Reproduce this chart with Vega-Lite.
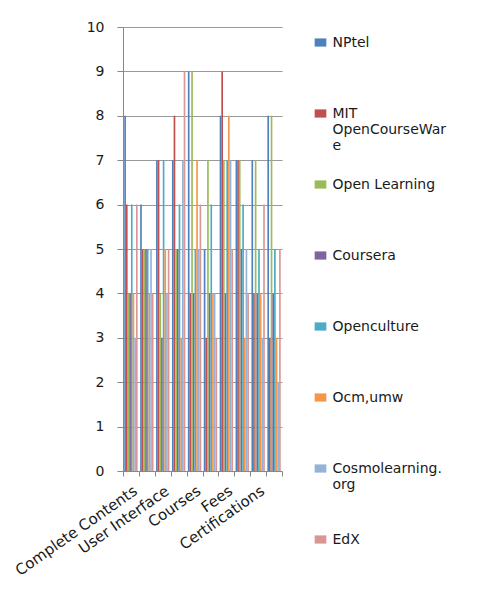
{
  "$schema": "https://vega.github.io/schema/vega-lite/v6.json",
  "autosize": "none",
  "width": 159,
  "height": 444,
  "padding": {"left": 123, "top": 27, "right": 197, "bottom": 136},
  "background": "white",
  "config": {
    "view": {"stroke": null},
    "font": "DejaVu Sans"
  },
  "data": {
    "values": [
      {"category": "Complete Contents", "series": "NPtel", "value": 8},
      {"category": "Complete Contents", "series": "MIT OpenCourseWare", "value": 6},
      {"category": "Complete Contents", "series": "Open Learning", "value": 4},
      {"category": "Complete Contents", "series": "Coursera", "value": 4},
      {"category": "Complete Contents", "series": "Openculture", "value": 6},
      {"category": "Complete Contents", "series": "Ocm,umw", "value": 4},
      {"category": "Complete Contents", "series": "Cosmolearning.org", "value": 3},
      {"category": "Complete Contents", "series": "EdX", "value": 6},
      {"category": " ", "series": "NPtel", "value": 6},
      {"category": " ", "series": "MIT OpenCourseWare", "value": 5},
      {"category": " ", "series": "Open Learning", "value": 5},
      {"category": " ", "series": "Coursera", "value": 5},
      {"category": " ", "series": "Openculture", "value": 5},
      {"category": " ", "series": "Ocm,umw", "value": 4},
      {"category": " ", "series": "Cosmolearning.org", "value": 5},
      {"category": " ", "series": "EdX", "value": 4},
      {"category": "User Interface", "series": "NPtel", "value": 7},
      {"category": "User Interface", "series": "MIT OpenCourseWare", "value": 7},
      {"category": "User Interface", "series": "Open Learning", "value": 4},
      {"category": "User Interface", "series": "Coursera", "value": 3},
      {"category": "User Interface", "series": "Openculture", "value": 7},
      {"category": "User Interface", "series": "Ocm,umw", "value": 5},
      {"category": "User Interface", "series": "Cosmolearning.org", "value": 4},
      {"category": "User Interface", "series": "EdX", "value": 5},
      {"category": "  ", "series": "NPtel", "value": 7},
      {"category": "  ", "series": "MIT OpenCourseWare", "value": 8},
      {"category": "  ", "series": "Open Learning", "value": 5},
      {"category": "  ", "series": "Coursera", "value": 5},
      {"category": "  ", "series": "Openculture", "value": 6},
      {"category": "  ", "series": "Ocm,umw", "value": 3},
      {"category": "  ", "series": "Cosmolearning.org", "value": 7},
      {"category": "  ", "series": "EdX", "value": 9},
      {"category": "Courses", "series": "NPtel", "value": 9},
      {"category": "Courses", "series": "MIT OpenCourseWare", "value": 4},
      {"category": "Courses", "series": "Open Learning", "value": 9},
      {"category": "Courses", "series": "Coursera", "value": 4},
      {"category": "Courses", "series": "Openculture", "value": 5},
      {"category": "Courses", "series": "Ocm,umw", "value": 7},
      {"category": "Courses", "series": "Cosmolearning.org", "value": 5},
      {"category": "Courses", "series": "EdX", "value": 6},
      {"category": "   ", "series": "NPtel", "value": 5},
      {"category": "   ", "series": "MIT OpenCourseWare", "value": 3},
      {"category": "   ", "series": "Open Learning", "value": 7},
      {"category": "   ", "series": "Coursera", "value": 4},
      {"category": "   ", "series": "Openculture", "value": 6},
      {"category": "   ", "series": "Ocm,umw", "value": 4},
      {"category": "   ", "series": "Cosmolearning.org", "value": 4},
      {"category": "   ", "series": "EdX", "value": 3},
      {"category": "Fees", "series": "NPtel", "value": 8},
      {"category": "Fees", "series": "MIT OpenCourseWare", "value": 9},
      {"category": "Fees", "series": "Open Learning", "value": 7},
      {"category": "Fees", "series": "Coursera", "value": 4},
      {"category": "Fees", "series": "Openculture", "value": 7},
      {"category": "Fees", "series": "Ocm,umw", "value": 8},
      {"category": "Fees", "series": "Cosmolearning.org", "value": 7},
      {"category": "Fees", "series": "EdX", "value": 5},
      {"category": "    ", "series": "NPtel", "value": 7},
      {"category": "    ", "series": "MIT OpenCourseWare", "value": 7},
      {"category": "    ", "series": "Open Learning", "value": 7},
      {"category": "    ", "series": "Coursera", "value": 5},
      {"category": "    ", "series": "Openculture", "value": 6},
      {"category": "    ", "series": "Ocm,umw", "value": 3},
      {"category": "    ", "series": "Cosmolearning.org", "value": 5},
      {"category": "    ", "series": "EdX", "value": 4},
      {"category": "Certifications", "series": "NPtel", "value": 7},
      {"category": "Certifications", "series": "MIT OpenCourseWare", "value": 4},
      {"category": "Certifications", "series": "Open Learning", "value": 7},
      {"category": "Certifications", "series": "Coursera", "value": 4},
      {"category": "Certifications", "series": "Openculture", "value": 5},
      {"category": "Certifications", "series": "Ocm,umw", "value": 4},
      {"category": "Certifications", "series": "Cosmolearning.org", "value": 3},
      {"category": "Certifications", "series": "EdX", "value": 6},
      {"category": "     ", "series": "NPtel", "value": 8},
      {"category": "     ", "series": "MIT OpenCourseWare", "value": 3},
      {"category": "     ", "series": "Open Learning", "value": 8},
      {"category": "     ", "series": "Coursera", "value": 4},
      {"category": "     ", "series": "Openculture", "value": 5},
      {"category": "     ", "series": "Ocm,umw", "value": 3},
      {"category": "     ", "series": "Cosmolearning.org", "value": 2},
      {"category": "     ", "series": "EdX", "value": 5}
    ]
  },
  "mark": {"type": "bar", "strokeWidth": 0},
  "encoding": {
    "x": {
      "field": "category",
      "type": "nominal",
      "sort": null,
      "title": null,
      "scale": {"paddingInner": 0, "paddingOuter": 0},
      "axis": {
        "tickBand": "extent",
        "labelAngle": -35,
        "labelAlign": "right",
        "labelBaseline": "top",
        "labelFontSize": 15,
        "labelColor": "#1a1a1a",
        "labelPadding": 7,
        "tickSize": 5,
        "tickColor": "#888888",
        "domainColor": "#888888",
        "grid": false,
        "labelOverlap": false
      }
    },
    "xOffset": {
      "field": "series",
      "type": "nominal",
      "sort": null,
      "scale": {"paddingInner": 0, "paddingOuter": 0.75}
    },
    "y": {
      "field": "value",
      "type": "quantitative",
      "title": null,
      "scale": {"domain": [0, 10], "nice": false},
      "axis": {
        "values": [0, 1, 2, 3, 4, 5, 6, 7, 8, 9, 10],
        "labelFontSize": 14,
        "labelColor": "#1a1a1a",
        "labelPadding": 13,
        "tickSize": 6,
        "tickColor": "#888888",
        "domainColor": "#888888",
        "gridColor": "#999999",
        "gridWidth": 1
      }
    },
    "color": {
      "field": "series",
      "type": "nominal",
      "sort": null,
      "scale": {
        "domain": ["NPtel", "MIT OpenCourseWare", "Open Learning", "Coursera", "Openculture", "Ocm,umw", "Cosmolearning.org", "EdX"],
        "range": ["#4F81BD", "#C0504D", "#9BBB59", "#8064A2", "#4BACC6", "#F79646", "#95B3D7", "#D99694"]
      },
      "legend": {
        "title": null,
        "orient": "none",
        "legendX": 190.5,
        "legendY": 8.5,
        "padding": 0,
        "labelFontSize": 14,
        "labelColor": "#1a1a1a",
        "labelBaseline": "middle",
        "labelOffset": 5,
        "labelLimit": 200,
        "symbolType": "M-1,-0.7H1V0.7H-1Z",
        "symbolSize": 137,
        "symbolStrokeWidth": 0,
        "rowPadding": 25,
        "labelExpr": "datum.label == 'MIT OpenCourseWare' ? ['MIT', 'OpenCourseWar', 'e'] : datum.label == 'Cosmolearning.org' ? ['Cosmolearning.', 'org', ''] : [datum.label, '', '']"
      }
    }
  }
}
